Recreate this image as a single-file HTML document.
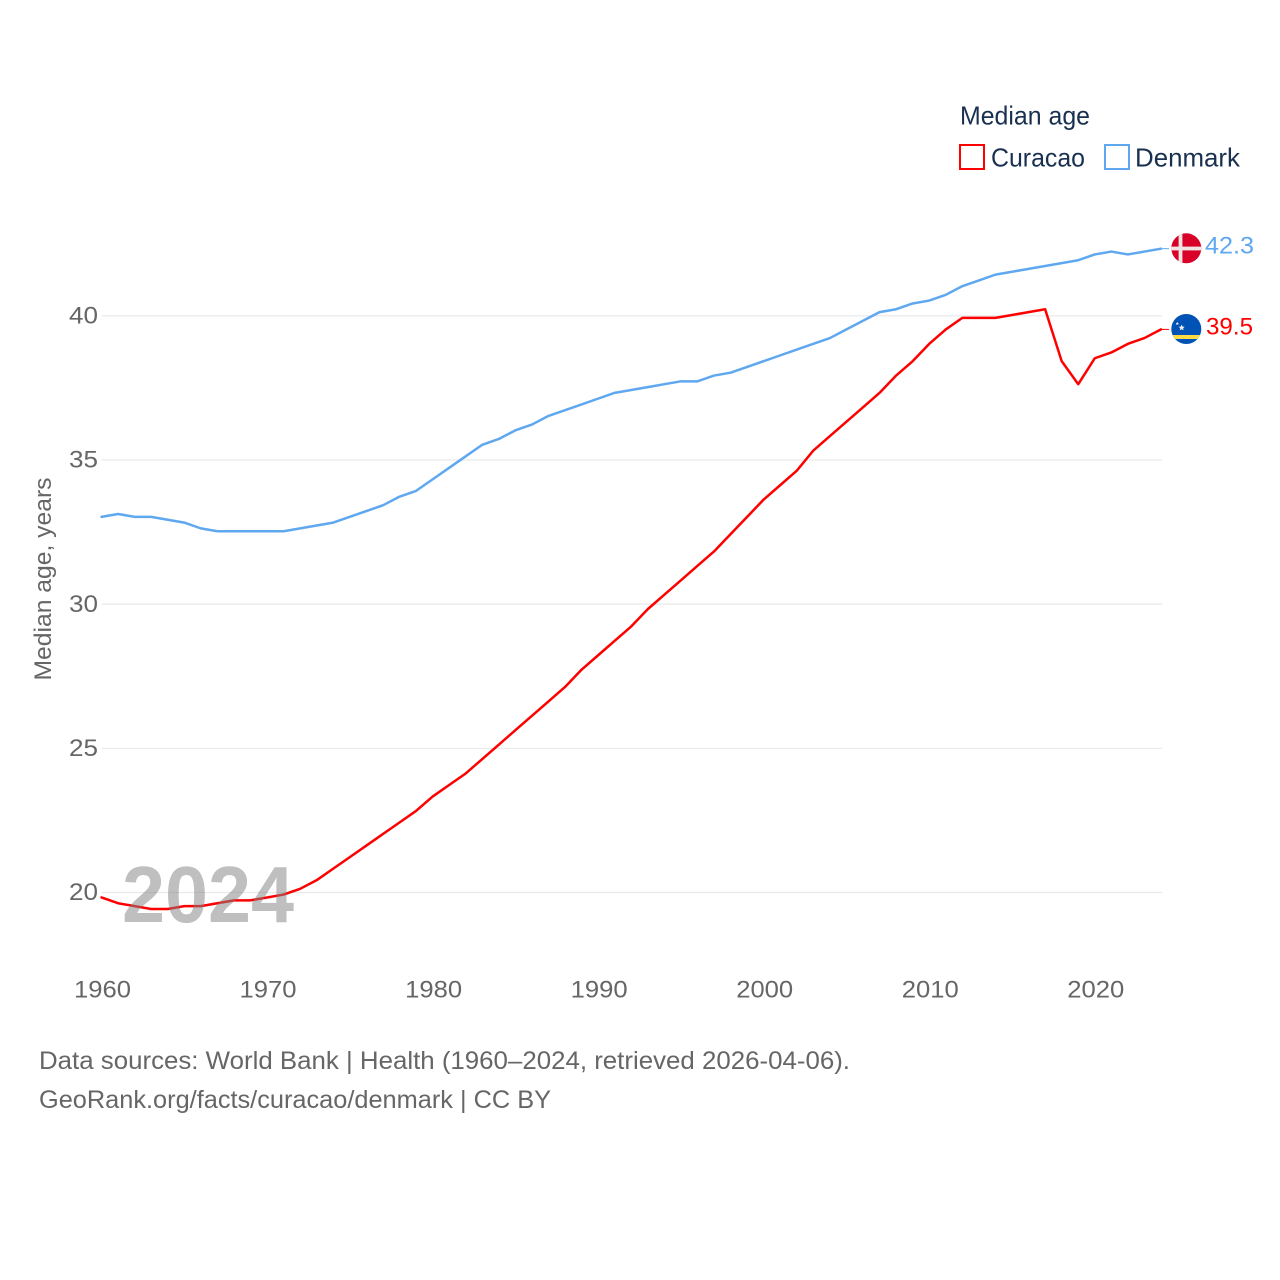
<!DOCTYPE html>
<html lang="en">
<head>
<meta charset="utf-8">
<title>Median age: Curacao and Denmark</title>
<style>
  html, body { margin: 0; padding: 0; background: #fff; }
  svg { display: block; }
  text { font-family: "Liberation Sans", sans-serif; }
</style>
</head>
<body>
<svg id="chart" xmlns="http://www.w3.org/2000/svg" width="1280" height="1280" viewBox="0 0 1280 1280">
  <rect width="1280" height="1280" fill="#fff"/>
  <g id="grid"></g>
  <g id="yticks"></g>
  <g id="xticks"></g>
  <text transform="translate(51,579) rotate(-90)" text-anchor="middle" font-size="24" fill="#666" textLength="203" lengthAdjust="spacingAndGlyphs">Median age, years</text>
  <g id="series" transform="translate(0,-0.8)"></g>
  <text x="122" y="922" font-size="79.5" font-weight="700" fill="#808080" fill-opacity="0.5" textLength="172" lengthAdjust="spacingAndGlyphs">2024</text>

  <g>
    <text x="960" y="124.5" font-size="26" fill="#1a3050" textLength="130" lengthAdjust="spacingAndGlyphs">Median age</text>
    <g>
      <rect x="960" y="145" width="24" height="24" fill="none" stroke="#ff0000" stroke-width="2"/>
      <text x="991" y="166.5" font-size="26" fill="#1a3050" textLength="94" lengthAdjust="spacingAndGlyphs">Curacao</text>
    </g>
    <g>
      <rect x="1105" y="145" width="24" height="24" fill="none" stroke="#5fa8f0" stroke-width="2"/>
      <text x="1135" y="166.5" font-size="26" fill="#1a3050" textLength="105" lengthAdjust="spacingAndGlyphs">Denmark</text>
    </g>
  </g>

  <defs>
    <clipPath id="clip-dk"><circle cx="1186.3" cy="248.3" r="15"/></clipPath>
    <clipPath id="clip-cw"><circle cx="1186.3" cy="329" r="15"/></clipPath>
  </defs>
  <g clip-path="url(#clip-dk)">
    <rect x="1171" y="233" width="31" height="31" fill="#d80027"/>
    <rect x="1178.6" y="233" width="3.8" height="31" fill="#eee4e4"/>
    <rect x="1171" y="246.6" width="31" height="3.8" fill="#eee4e4"/>
  </g>
  <g clip-path="url(#clip-cw)">
    <rect x="1171" y="314" width="31" height="31" fill="#0052b4"/>
    <rect x="1171" y="335" width="31" height="4" fill="#ffda44"/>
    <polygon fill="#f0f0f0" points="1181.7,324.6 1182.6,326.6 1184.7,326.8 1183.1,328.2 1183.6,330.3 1181.7,329.2 1179.8,330.3 1180.3,328.2 1178.7,326.8 1180.8,326.6"/>
    <polygon fill="#f0f0f0" points="1177.3,321.9 1177.8,323 1178.9,323.1 1178.1,323.9 1178.3,325 1177.3,324.4 1176.3,325 1176.5,323.9 1175.7,323.1 1176.8,323"/>
  </g>
  <g id="endlabels"></g>

  <g>
    <text x="39" y="1069" font-size="25" fill="#666" textLength="811" lengthAdjust="spacingAndGlyphs">Data sources: World Bank | Health (1960–2024, retrieved 2026-04-06).</text>
    <text x="39" y="1108" font-size="25" fill="#666" textLength="512" lengthAdjust="spacingAndGlyphs">GeoRank.org/facts/curacao/denmark | CC BY</text>
  </g>
</svg>
<script>
const years = [1960,1961,1962,1963,1964,1965,1966,1967,1968,1969,1970,1971,1972,1973,1974,1975,1976,1977,1978,1979,1980,1981,1982,1983,1984,1985,1986,1987,1988,1989,1990,1991,1992,1993,1994,1995,1996,1997,1998,1999,2000,2001,2002,2003,2004,2005,2006,2007,2008,2009,2010,2011,2012,2013,2014,2015,2016,2017,2018,2019,2020,2021,2022,2023,2024];
const curacao = [19.8,19.6,19.5,19.4,19.4,19.5,19.5,19.6,19.7,19.7,19.8,19.9,20.1,20.4,20.8,21.2,21.6,22.0,22.4,22.8,23.3,23.7,24.1,24.6,25.1,25.6,26.1,26.6,27.1,27.7,28.2,28.7,29.2,29.8,30.3,30.8,31.3,31.8,32.4,33.0,33.6,34.1,34.6,35.3,35.8,36.3,36.8,37.3,37.9,38.4,39.0,39.5,39.9,39.9,39.9,40.0,40.1,40.2,38.4,37.6,38.5,38.7,39.0,39.2,39.5];
const denmark = [33.0,33.1,33.0,33.0,32.9,32.8,32.6,32.5,32.5,32.5,32.5,32.5,32.6,32.7,32.8,33.0,33.2,33.4,33.7,33.9,34.3,34.7,35.1,35.5,35.7,36.0,36.2,36.5,36.7,36.9,37.1,37.3,37.4,37.5,37.6,37.7,37.7,37.9,38.0,38.2,38.4,38.6,38.8,39.0,39.2,39.5,39.8,40.1,40.2,40.4,40.5,40.7,41.0,41.2,41.4,41.5,41.6,41.7,41.8,41.9,42.1,42.2,42.1,42.2,42.3];
const yTickValues = [20,25,30,35,40];
const xTickValues = [1960,1970,1980,1990,2000,2010,2020];

const NS = 'http://www.w3.org/2000/svg';
const RED = '#ff0000';
const BLUE = '#5fa8f0';
function xScale(year) { return 101.5 + (year - 1960) * (1161 - 101.5) / 64; }
function yScale(value) { return 892.5 - (value - 20) * (892.5 - 315.8) / 20; }
function make(tag, attrs, parent, content) {
  const el = document.createElementNS(NS, tag);
  for (const k in attrs) el.setAttribute(k, attrs[k]);
  if (content !== undefined) el.textContent = content;
  parent.appendChild(el);
  return el;
}

const gridGroup = document.getElementById('grid');
const yGroup = document.getElementById('yticks');
const xGroup = document.getElementById('xticks');
const seriesGroup = document.getElementById('series');
const endGroup = document.getElementById('endlabels');

yTickValues.forEach(function (v) {
  const line = make('line', { x1: 101.5, x2: 1162, y1: yScale(v), y2: yScale(v), stroke: '#e9e9e9', 'stroke-width': 1.2 }, gridGroup);
  
  
  const label = make('text', { x: 98, y: yScale(v) + 7.6, 'text-anchor': 'end', 'font-size': 24, fill: '#666', textLength: 29, lengthAdjust: 'spacingAndGlyphs' }, yGroup, String(v));
  
  
});

xTickValues.forEach(function (v) {
  const label = make('text', { x: xScale(v) + 1, y: 997.6, 'text-anchor': 'middle', 'font-size': 24, fill: '#666', textLength: 57, lengthAdjust: 'spacingAndGlyphs' }, xGroup, String(v));
  
  
});

function drawSeries(name, values, color, labelX, labelWidth) {
  const d = values.map(function (v, i) {
    return (i ? 'L' : 'M') + xScale(years[i]).toFixed(2) + ' ' + yScale(v).toFixed(2);
  }).join(' ');
  const path = make('path', { d: d, fill: 'none', stroke: color, 'stroke-width': 2.5, 'stroke-linejoin': 'round', 'stroke-linecap': 'round' }, seriesGroup);
  
  
  const last = values[values.length - 1];
  const lastX = xScale(years[years.length - 1]);
  const stub = make('line', { x1: lastX, x2: lastX + 8, y1: yScale(last), y2: yScale(last), stroke: color, 'stroke-width': 1 }, seriesGroup);
  
  
  const label = make('text', { x: labelX, y: yScale(last) + 4.2, 'font-size': 24.5, fill: color, textLength: labelWidth, lengthAdjust: 'spacingAndGlyphs' }, endGroup, last.toFixed(1));
  
  
}
drawSeries('curacao', curacao, RED, 1206, 47);
drawSeries('denmark', denmark, BLUE, 1205, 49);
</script>
</body>
</html>
